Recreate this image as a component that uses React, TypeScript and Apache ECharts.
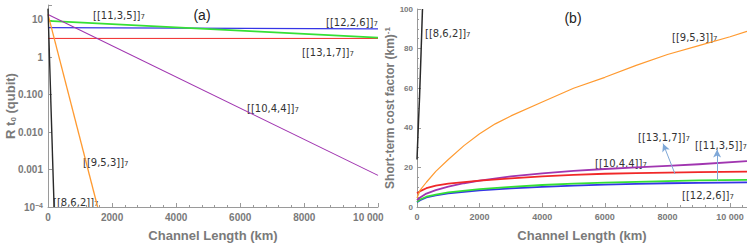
import React, { useEffect, useRef } from "react";
import * as echarts from "echarts";

// ---- Panel (a): R t0 (qubit) vs channel length (km), log scale ----
const a862: [number, number][] = [[0, 20], [190, 1e-4]];
const a953: [number, number][] = [[0, 14], [1550, 1e-4]];
const a1044: [number, number][] = [[0, 14], [10300, 0.0007]];
const a1135: [number, number][] = [[0, 9.4], [10300, 3.35]];
const a1226: [number, number][] = [[0, 6.2], [10300, 5.75]];
const a1317: [number, number][] = [[0, 3.2], [10300, 3.2]];

// ---- Panel (b): short-term cost factor (km)^-1 vs channel length (km) ----
const b862: [number, number][] = [[0, 24], [20, 32], [50, 44], [80, 55], [130, 78], [175, 100]];
const b953: [number, number][] = [
  [0, 4.5], [100, 8.5], [300, 12.5], [600, 18], [1000, 24], [1500, 31], [2000, 37], [2500, 42],
  [3000, 46], [4000, 53], [5000, 60], [6000, 65.5], [7000, 71.5], [8000, 77], [9000, 81.5],
  [10000, 86], [10540, 88.7],
];
const b1044: [number, number][] = [
  [0, 3.4], [100, 4.8], [300, 6.8], [600, 8.5], [1000, 10.3], [1500, 12], [2000, 13.3],
  [3000, 15.5], [4000, 17], [5000, 18.2], [6000, 19.2], [7000, 20], [8000, 20.8], [9000, 21.6],
  [10540, 23.2],
];
const b1317: [number, number][] = [
  [0, 6.9], [100, 8], [300, 9.5], [600, 10.8], [1000, 11.8], [2000, 13.3], [3000, 14.5],
  [4000, 15.5], [5000, 16.2], [6000, 16.8], [7000, 17.1], [8000, 17.4], [9000, 17.6], [10540, 17.9],
];
const b1135: [number, number][] = [
  [0, 2.6], [100, 3.8], [300, 5.2], [600, 6.3], [1000, 7.4], [2000, 9], [3000, 10.2], [4000, 11.1],
  [5000, 11.8], [6000, 12.3], [7000, 12.7], [8000, 13.1], [9000, 13.4], [10540, 13.7],
];
const b1226: [number, number][] = [
  [0, 2.4], [100, 3.4], [300, 4.8], [600, 5.9], [1000, 6.9], [2000, 8.4], [3000, 9.4], [4000, 10.2],
  [5000, 10.8], [6000, 11.3], [7000, 11.7], [8000, 12], [9000, 12.2], [10540, 12.4],
];

const logTickLabels: Record<string, string> = {
  "1": "10",
  "0": "1",
  "-1": "0.100",
  "-2": "0.010",
  "-3": "0.001",
  "-4": "10{sup|−4}",
};

const C = {
  black: "#2a2a2a",
  orange: "#ff9a30",
  purple: "#a035b0",
  green: "#35e035",
  blue: "#3535e6",
  red: "#f02828",
};

const AX = "#9a9a9a";
const LBL = "#7a7a7a";

export default function App() {
  const ref = useRef<HTMLDivElement>(null);
  useEffect(() => {
    const chart = echarts.init(ref.current!, undefined, { renderer: "svg" });
    const subRich = {
      s: { fontSize: 7, lineHeight: 7, verticalAlign: "bottom", fill: "#333", fontFamily: "DejaVu Sans" },
    } as any;
    const lab = (text: string, x: number, y: number) => ({
      type: "text",
      x,
      y,
      style: {
        text: text + "{s|7}",
        fill: "#333",
        font: "10px 'DejaVu Sans'",
        textVerticalAlign: "middle",
        rich: subRich,
      },
    });
    const xLabFmt = (v: number) => (v % 2000 === 0 ? (v === 10000 ? "10 000" : String(v)) : "");
    const line = (xi: number, data: any, color: string, width: number, extra: any = {}) => ({
      type: "line",
      xAxisIndex: xi,
      yAxisIndex: xi,
      data,
      showSymbol: false,
      smooth: false,
      clip: true,
      lineStyle: { color, width, join: "round" },
      ...extra,
    });
    chart.setOption({
      animation: false,
      grid: [
        { left: 48, top: 5, width: 330, bottom: 34 },
        { left: 417, top: 9, width: 330, bottom: 34 },
      ],
      xAxis: [
        {
          gridIndex: 0,
          type: "value",
          min: 0,
          max: 10300,
          interval: 2000,
          name: "Channel Length (km)",
          nameLocation: "middle",
          nameGap: 22,
          nameTextStyle: { color: LBL, fontWeight: "bold", fontSize: 13, fontFamily: "Liberation Sans" },
          axisLine: { lineStyle: { color: AX } },
          axisTick: { inside: true, length: 4, lineStyle: { color: AX } },
          minorTick: { show: true, splitNumber: 5, length: 2, lineStyle: { color: AX } },
          axisLabel: { formatter: xLabFmt, color: LBL, fontWeight: "bold", fontSize: 10, fontFamily: "Liberation Sans", margin: 5, showMaxLabel: false },
          splitLine: { show: false },
        },
        {
          gridIndex: 1,
          type: "value",
          min: 0,
          max: 10540,
          interval: 2000,
          name: "Channel Length (km)",
          nameLocation: "middle",
          nameGap: 22,
          nameTextStyle: { color: LBL, fontWeight: "bold", fontSize: 13, fontFamily: "Liberation Sans" },
          axisLine: { lineStyle: { color: AX } },
          axisTick: { inside: true, length: 4, lineStyle: { color: AX } },
          minorTick: { show: true, splitNumber: 5, length: 2, lineStyle: { color: AX } },
          axisLabel: { formatter: xLabFmt, color: LBL, fontWeight: "bold", fontSize: 9, fontFamily: "Liberation Sans", margin: 5, showMaxLabel: false },
          splitLine: { show: false },
        },
      ],
      yAxis: [
        {
          gridIndex: 0,
          type: "log",
          logBase: 10,
          min: 1e-4,
          max: 25,
          splitNumber: 6,
          name: "R t{sub|0} (qubit)",
          nameLocation: "middle",
          nameGap: 31,
          nameMoveOverlap: false,
          nameRotate: 90,
          nameTextStyle: {
            color: LBL,
            fontWeight: "bold",
            fontSize: 13,
            fontFamily: "Liberation Sans",
            rich: { sub: { fontSize: 8, lineHeight: 8, verticalAlign: "bottom", color: LBL, fontWeight: "bold", fontFamily: "Liberation Sans" } },
          },
          axisLine: { show: true, lineStyle: { color: AX } },
          axisTick: { show: true, inside: true, length: 4, lineStyle: { color: AX } },
          axisLabel: {
            color: LBL,
            fontWeight: "bold",
            fontSize: 10,
            fontFamily: "Liberation Sans",
            margin: 5,
            formatter: (v: number) => {
              const e = Math.log10(v);
              const r = Math.round(e);
              if (Math.abs(e - r) > 1e-6) return "";
              return logTickLabels[String(r)] ?? "";
            },
            rich: { sup: { fontSize: 7, lineHeight: 7, verticalAlign: "top", color: LBL, fontWeight: "bold", fontFamily: "Liberation Sans" } },
          },
          splitLine: { show: false },
        },
        {
          gridIndex: 1,
          type: "value",
          min: 0,
          max: 100,
          interval: 20,
          name: "Short-term cost factor (km){sup|-1}",
          nameLocation: "middle",
          nameGap: 20,
          nameRotate: 90,
          nameTextStyle: {
            color: LBL,
            fontWeight: "bold",
            fontSize: 12,
            fontFamily: "Liberation Sans",
            rich: { sup: { fontSize: 8, lineHeight: 8, verticalAlign: "top", color: LBL, fontWeight: "bold", fontFamily: "Liberation Sans" } },
          },
          axisLine: { show: true, lineStyle: { color: AX } },
          axisTick: { show: true, inside: true, length: 4, lineStyle: { color: AX } },
          minorTick: { show: true, splitNumber: 4, length: 2, lineStyle: { color: AX } },
          axisLabel: { color: LBL, fontWeight: "bold", fontSize: 8, fontFamily: "Liberation Sans", margin: 4 },
          splitLine: { show: false },
        },
      ],
      series: [
        line(0, a1317, C.red, 1),
        line(0, a1226, C.blue, 1.2),
        line(0, a1135, C.green, 1.6),
        line(0, a1044, C.purple, 1.1),
        line(0, a953, C.orange, 1.3),
        line(0, a862, C.black, 1.4),
        line(1, b1226, C.blue, 1.8),
        line(1, b1135, C.green, 1.8),
        line(1, b1044, C.purple, 1.8),
        line(1, b1317, C.red, 1.8, {
          markLine: {
            silent: true,
            symbol: ["none", "arrow"],
            symbolSize: [6, 8],
            label: { show: false },
            lineStyle: { color: "#7fa8d8", width: 1, type: "solid" },
            data: [
              [{ coord: [8240, 16.7] }, { coord: [7860, 32] }],
              [{ coord: [9585, 13.3] }, { coord: [9585, 29] }],
            ],
          },
        }),
        line(1, b953, C.orange, 1.2),
        line(1, b862, C.black, 1.5),
      ],
      graphic: [
        { type: "text", x: 202, y: 15, style: { text: "(a)", fill: "#222", font: "14px 'Liberation Sans'", textAlign: "center", textVerticalAlign: "middle" } },
        { type: "text", x: 573, y: 18, style: { text: "(b)", fill: "#222", font: "14px 'Liberation Sans'", textAlign: "center", textVerticalAlign: "middle" } },
        lab("[[11,3,5]]", 93, 15),
        lab("[[12,2,6]]", 326, 22),
        lab("[[13,1,7]]", 302, 52),
        lab("[[10,4,4]]", 247, 108),
        lab("[[9,5,3]]", 83, 162),
        lab("[[8,6,2]]", 53, 202),
        lab("[[8,6,2]]", 425, 33),
        lab("[[9,5,3]]", 672, 37),
        lab("[[13,1,7]]", 638, 137),
        lab("[[11,3,5]]", 695, 145),
        lab("[[10,4,4]]", 595, 163),
        lab("[[12,2,6]]", 682, 195),
      ],
    });
    return () => chart.dispose();
  }, []);
  return <div ref={ref} style={{ position: "fixed", left: 0, top: 0, width: 747, height: 247, background: "#fff" }} />;
}
